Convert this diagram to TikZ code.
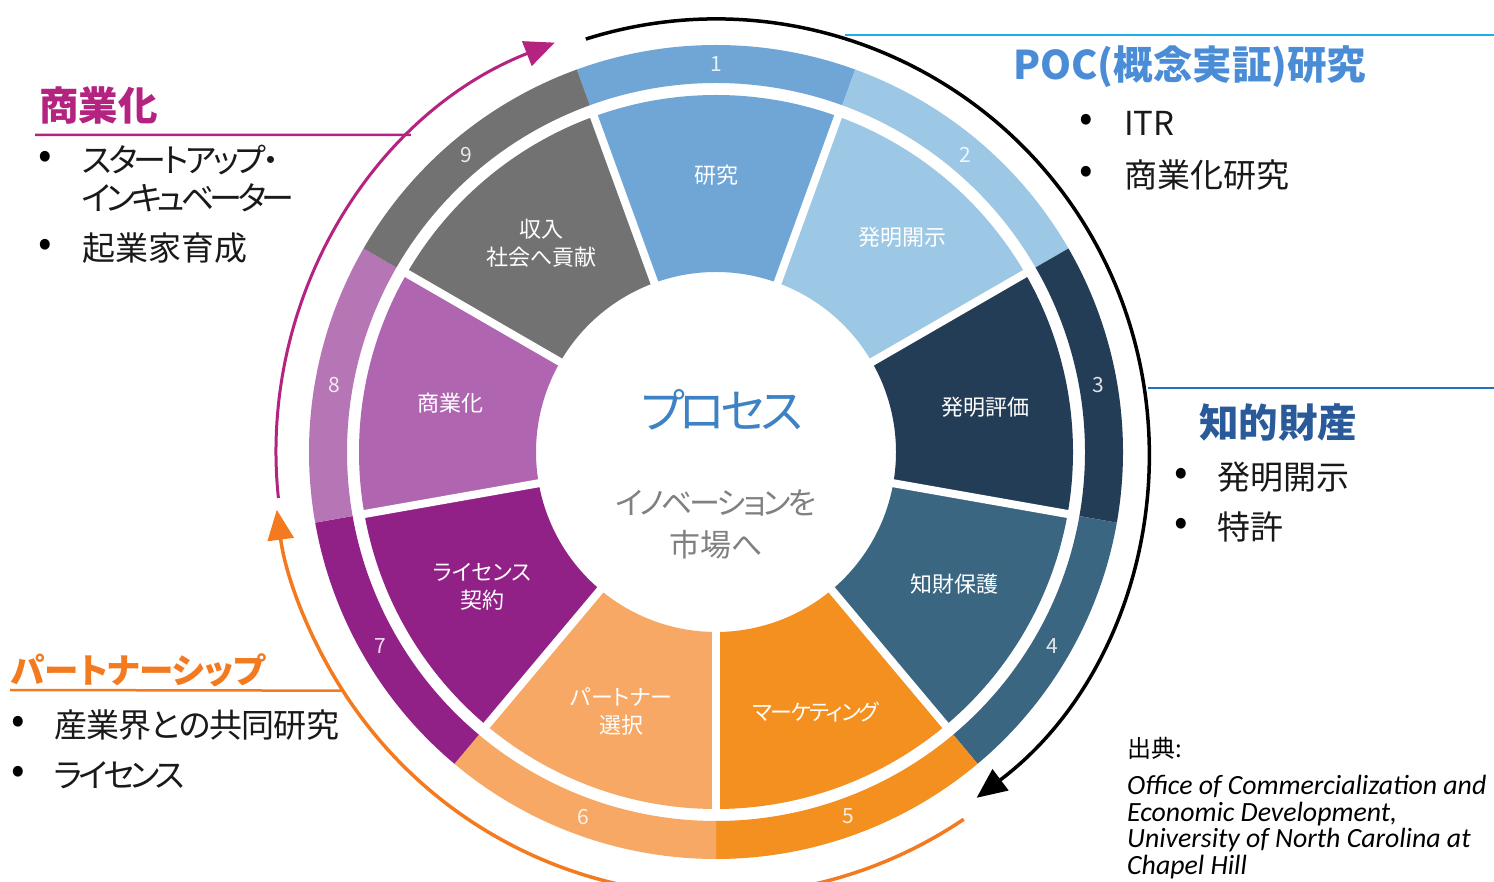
\documentclass[tikz,border=0pt]{standalone}
\usepackage{fontspec}
\usetikzlibrary{arrows.meta}
\newfontfamily\jp{Noto Sans CJK JP}[RawFeature={+palt}]
\newfontfamily\carl{Carlito}
\definecolor{c1}{HTML}{6FA6D6}
\definecolor{c2}{HTML}{9CC8E6}
\definecolor{c3}{HTML}{233D57}
\definecolor{c4}{HTML}{3A6681}
\definecolor{c5}{HTML}{F39020}
\definecolor{c6}{HTML}{F6A864}
\definecolor{c7}{HTML}{922187}
\definecolor{c8}{HTML}{B065B1}
\definecolor{c9}{HTML}{727272}
\definecolor{b8}{HTML}{B676B6}
\definecolor{mag}{HTML}{B3237F}
\definecolor{org}{HTML}{F47A1F}
\definecolor{poc}{HTML}{4A8CD6}
\definecolor{cyl}{HTML}{1AAEEA}
\definecolor{ipb}{HTML}{2A5A9A}
\definecolor{bll}{HTML}{1E74C2}
\definecolor{proc}{HTML}{3C82C4}
\definecolor{gtx}{HTML}{808080}
\tikzset{
  seglabel/.style={text=white, font=\jp\fontsize{22}{28}\selectfont, align=center, inner sep=0pt},
  numlabel/.style={text=white, opacity=0.85, font=\jp\fontsize{21}{21}\selectfont, inner sep=0pt},
  heading/.style={font=\jp\bfseries\fontsize{39.5}{42}\selectfont, anchor=west, inner sep=0pt},
  bul/.style={font=\jp\fontsize{33}{36}\selectfont, anchor=west, inner sep=0pt, text=black!90},
  bulletdot/.style={font=\jp\fontsize{40}{40}\selectfont, inner sep=0pt, text=black},
  cycarrow/.style={line width=3.5pt, -{Triangle[width=26pt,length=30pt]}},
  hline/.style={line width=2.5pt}
}
\newcommand{\tight}[1]{\addfontfeatures{LetterSpace=#1}}
\begin{document}
\begin{tikzpicture}[x=1pt,y=1pt]
\useasboundingbox (0,0) rectangle (1494,881);
\fill[white] (0,0) rectangle (1494,881);

\begin{scope}[shift={(716,429)}]
  % outer band and inner segments
  \foreach \i/\c/\b in {1/c1/c1,2/c2/c2,3/c3/c3,4/c4/c4,5/c5/c5,6/c6/c6,7/c7/c7,8/c8/b8,9/c9/c9}{
    \pgfmathsetmacro\a{90-40*(\i-1)}
    \fill[\b] (\a-20:407) arc[start angle=\a-20, end angle=\a+20, radius=407]
      -- (\a+20:369) arc[start angle=\a+20, end angle=\a-20, radius=369] -- cycle;
    \fill[\c] (\a-20:357) arc[start angle=\a-20, end angle=\a+20, radius=357]
      -- (\a+20:180) arc[start angle=\a+20, end angle=\a-20, radius=180] -- cycle;
    \node[numlabel] (n\i) at (\a:388) {\i};
  }
  \foreach \k in {0,...,8}{
    \draw[white, line width=8pt] (70+40*\k:176) -- (70+40*\k:361);
  }
  % segment labels
  \node[seglabel] (s1) at (90:277) {研究};
  \node[seglabel] (s2) at (49:285) {発明開示};
  \node[seglabel] (s3) at (9.5:273) {発明評価};
  \node[seglabel] (s4) at (-29:273) {知財保護};
  \node[seglabel] (s5) at (-69:279) {\tight{-8}マーケティング};
  \node[seglabel] (s6) at (-110:276) {パートナー\\選択};
  \node[seglabel] (s7) at (-150:270) {ライセンス\\契約};
  \node[seglabel] (s8) at (169.5:270) {商業化};
  \node[seglabel] (s9) at (130:272) {収入\\社会へ貢献};
  % centre
  \node[text=proc, font=\jp\fontsize{47}{47}\selectfont, inner sep=0pt] (proc) at (6,42) {\tight{-10}プロセス};
  \node[text=gtx, font=\jp\fontsize{31}{42}\selectfont, align=center, inner sep=0pt] (innov) at (0,-72) {\tight{-9}イノベーションを\\市場へ};
  % cycle arrows
  \draw[cycarrow, black] (107.5:433) arc[start angle=107.5, end angle=-53, radius=433];
  \draw[cycarrow, mag, line width=3pt] (186:440) arc[start angle=186, end angle=111.5, radius=440];
  \draw[cycarrow, org, line width=3.5pt] (-56:443) arc[start angle=-56, end angle=-172.5, radius=443];
  \coordinate (magend) at (133.9:440);
  \coordinate (orgend) at (212.6:443);
\end{scope}

% 商業化
\node[heading, text=mag] (hcom) at (39,776) {商業化};
\draw[hline, mag] (35,746) -- (magend);
\node[bulletdot] (d1) at (45,721) {•};
\node[bul] (t1) at (82,721) {\tight{-10}スタートアップ・};
\node[bul] (t2) at (82,683) {\tight{-14}インキュベーター};
\node[bulletdot] (d2) at (45,633) {•};
\node[bul] (t3) at (82,633) {起業家育成};

% POC
\draw[hline, cyl] (845,846) -- (1494,846);
\node[heading, text=poc] (hpoc) at (1013,814) {POC(概念実証)研究};
\node[bulletdot] (d3) at (1086,758) {•};
\node[bul] (t4) at (1124,758) {ITR};
\node[bulletdot] (d4) at (1086,706) {•};
\node[bul] (t5) at (1124,706) {商業化研究};

% 知的財産
\draw[hline, bll] (1148,493) -- (1494,493);
\node[heading, text=ipb] (hip) at (1199,458) {知的財産};
\node[bulletdot] (d5) at (1181,404) {•};
\node[bul] (t6) at (1217,404) {発明開示};
\node[bulletdot] (d6) at (1181,354) {•};
\node[bul] (t7) at (1217,354) {特許};

% パートナーシップ
\node[heading, text=org, font=\jp\bfseries\fontsize{34.5}{38}\selectfont] (hpar) at (11,211) {パートナーシップ};
\draw[hline, org] (10,191) -- (orgend);
\node[bulletdot] (d7) at (18,156) {•};
\node[bul] (t8) at (54,156) {\tight{-2.5}産業界との共同研究};
\node[bulletdot] (d8) at (18,106) {•};
\node[bul] (t9) at (54,106) {\tight{-13}ライセンス};

% source
\node[font=\jp\fontsize{24}{24}\selectfont, anchor=west, inner sep=0pt] (src) at (1127,133) {出典:};
\node[font=\carl\itshape\fontsize{27.8}{26.5}\selectfont, anchor=north west, align=left, inner sep=0pt] (ref) at (1127,106)
  {Office of Commercialization and\\Economic Development,\\University of North Carolina at\\Chapel Hill};
\end{tikzpicture}
\end{document}
